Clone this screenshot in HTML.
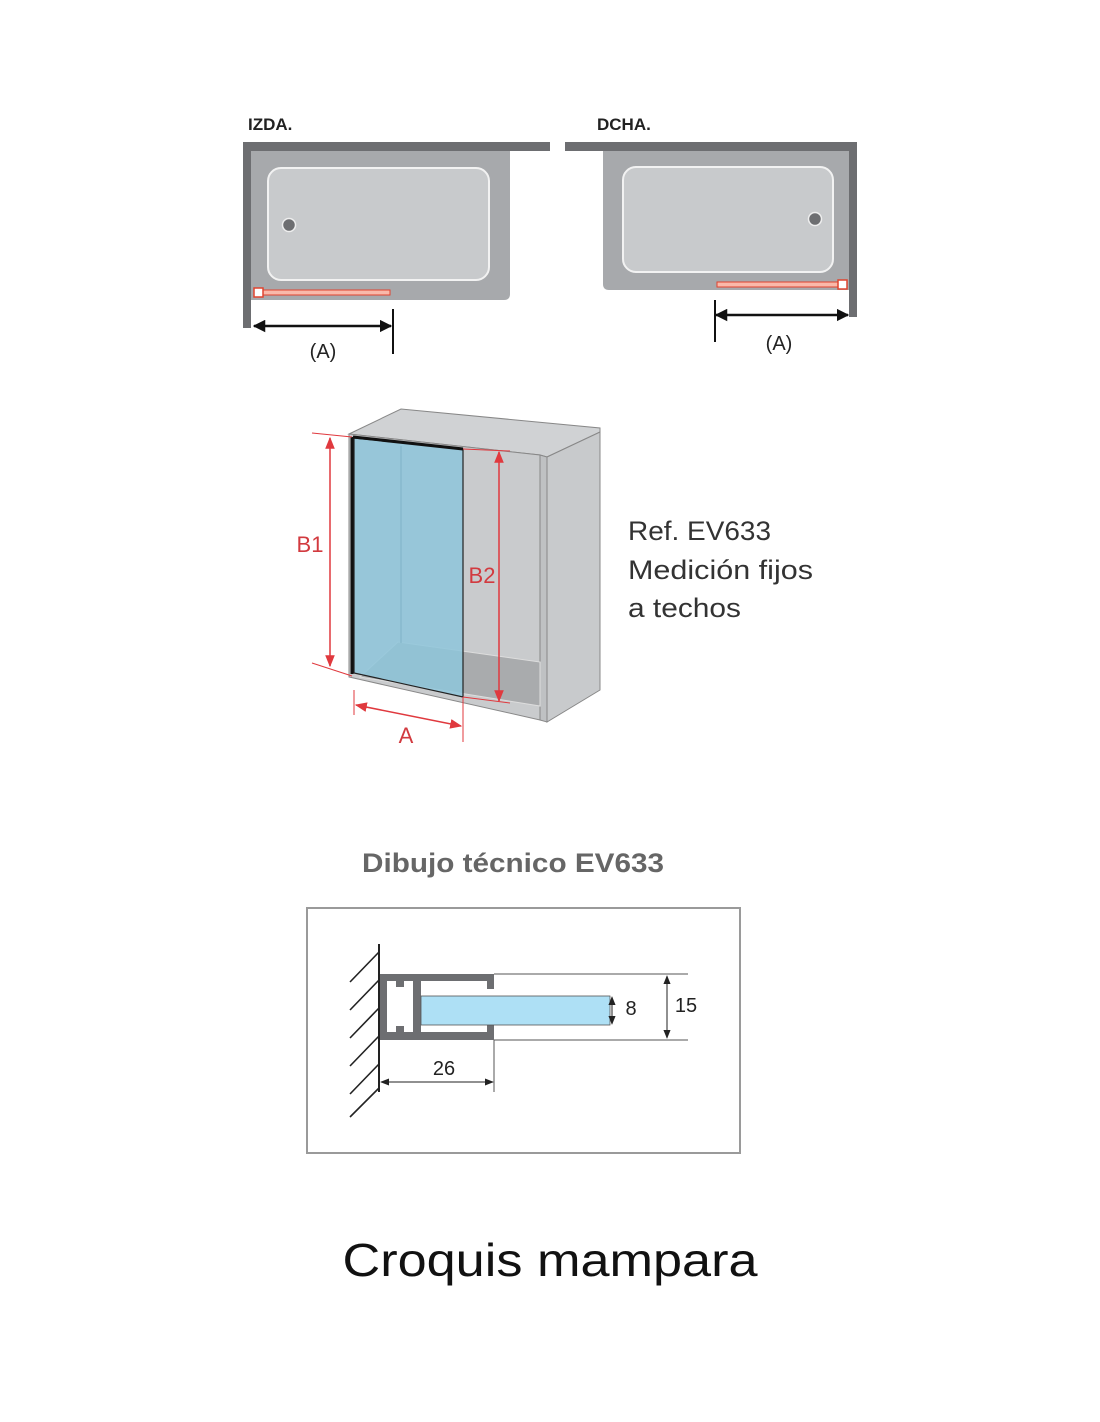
<!DOCTYPE html>
<html><head><meta charset="utf-8"><style>
html,body{margin:0;padding:0;background:#fff;}
svg{display:block;}
</style></head><body>
<svg width="1100" height="1422" viewBox="0 0 1100 1422" xmlns="http://www.w3.org/2000/svg">
<defs>
<marker id="ab" viewBox="0 0 10 10" refX="9" refY="5" markerWidth="5" markerHeight="5" orient="auto-start-reverse"><path d="M0,0 L10,5 L0,10 z" fill="#111"/></marker>
<marker id="ar" viewBox="0 0 10 10" refX="9" refY="5" markerWidth="8" markerHeight="8" orient="auto-start-reverse"><path d="M0,1 L10,5 L0,9 z" fill="#e0393e"/></marker>
<marker id="ak" viewBox="0 0 10 10" refX="9" refY="5" markerWidth="9" markerHeight="9" orient="auto-start-reverse"><path d="M0,1 L10,5 L0,9 z" fill="#222"/></marker>
</defs>

<!-- TOP LEFT -->
<text x="248" y="130" font-family="Liberation Sans, sans-serif" font-weight="bold" font-size="17" fill="#222">IZDA.</text>
<rect x="243" y="142" width="307" height="9" fill="#6d6e71"/>
<rect x="243" y="142" width="8" height="186" fill="#6d6e71"/>
<path d="M251,151 H510 V294 Q510,300 504,300 H251 Z" fill="#a7a9ac"/>
<rect x="268" y="168" width="221" height="112" rx="13" fill="#c8cacc" stroke="#f2f2f2" stroke-width="2"/>
<circle cx="289" cy="225" r="6.5" fill="#6d6e71" stroke="#eee" stroke-width="1.5"/>
<rect x="260" y="290" width="130" height="5" fill="#f9b9aa" stroke="#e0442f" stroke-width="1"/>
<rect x="254" y="288" width="9" height="9" fill="#fff" stroke="#e0442f" stroke-width="1.5"/>
<line x1="254" y1="326" x2="391" y2="326" stroke="#111" stroke-width="2.5" marker-start="url(#ab)" marker-end="url(#ab)"/>
<line x1="393" y1="309" x2="393" y2="354" stroke="#111" stroke-width="2"/>
<text x="323" y="358" text-anchor="middle" font-family="Liberation Sans, sans-serif" font-size="20" fill="#222">(A)</text>

<!-- TOP RIGHT -->
<text x="597" y="130" font-family="Liberation Sans, sans-serif" font-weight="bold" font-size="17" fill="#222">DCHA.</text>
<rect x="565" y="142" width="292" height="9" fill="#6d6e71"/>
<rect x="849" y="142" width="8" height="175" fill="#6d6e71"/>
<path d="M603,151 H849 V290 H609 Q603,290 603,284 Z" fill="#a7a9ac"/>
<rect x="623" y="167" width="210" height="105" rx="13" fill="#c8cacc" stroke="#f2f2f2" stroke-width="2"/>
<circle cx="815" cy="219" r="6.5" fill="#6d6e71" stroke="#eee" stroke-width="1.5"/>
<rect x="717" y="282" width="122" height="5" fill="#f9b9aa" stroke="#e0442f" stroke-width="1"/>
<rect x="838" y="280" width="9" height="9" fill="#fff" stroke="#e0442f" stroke-width="1.5"/>
<line x1="716" y1="315" x2="848" y2="315" stroke="#111" stroke-width="2.5" marker-start="url(#ab)" marker-end="url(#ab)"/>
<line x1="715" y1="300" x2="715" y2="342" stroke="#111" stroke-width="2"/>
<text x="779" y="350" text-anchor="middle" font-family="Liberation Sans, sans-serif" font-size="20" fill="#222">(A)</text>

<!-- 3D BOX -->
<polygon points="349,434 401,409 600,428 600,432 547,457 540,455" fill="#d0d2d4" stroke="#888" stroke-width="1"/>
<polygon points="349,434 540,455 540,720 349,677" fill="#c9cbcd" stroke="#888" stroke-width="1"/>
<polygon points="540,455 547,457 547,722 540,720" fill="#bfc1c3" stroke="#888" stroke-width="1"/>
<polygon points="547,457 600,432 600,690 547,722" fill="#c8cacc" stroke="#888" stroke-width="1"/>
<polygon points="360,677 398,642 540,662 540,706" fill="#a9abad" stroke="#ddd" stroke-width="1"/>
<polygon points="354,438 463,449 463,697 354,673" fill="#8ec5db" fill-opacity="0.85" stroke="#222" stroke-width="1.2"/>
<line x1="401" y1="446" x2="401" y2="643" stroke="#7fb2c6" stroke-width="1"/>
<line x1="353" y1="437" x2="463" y2="449" stroke="#111" stroke-width="3"/>
<line x1="352" y1="437" x2="352" y2="674" stroke="#111" stroke-width="3"/>
<!-- dims -->
<line x1="312" y1="433" x2="352" y2="437" stroke="#e0393e" stroke-width="1"/>
<line x1="312" y1="663" x2="352" y2="676" stroke="#e0393e" stroke-width="1"/>
<line x1="330" y1="438" x2="330" y2="666" stroke="#e0393e" stroke-width="1.5" marker-start="url(#ar)" marker-end="url(#ar)"/>
<text x="310" y="552" text-anchor="middle" font-family="Liberation Sans, sans-serif" font-size="22" fill="#d23a3f">B1</text>
<line x1="463" y1="449" x2="510" y2="451" stroke="#e0393e" stroke-width="1"/>
<line x1="463" y1="697" x2="510" y2="703" stroke="#e0393e" stroke-width="1"/>
<line x1="499" y1="452" x2="499" y2="701" stroke="#e0393e" stroke-width="1.5" marker-start="url(#ar)" marker-end="url(#ar)"/>
<text x="482" y="583" text-anchor="middle" font-family="Liberation Sans, sans-serif" font-size="22" fill="#d23a3f">B2</text>
<line x1="354" y1="690" x2="354" y2="715" stroke="#e0393e" stroke-width="1"/>
<line x1="463" y1="697" x2="463" y2="742" stroke="#e0393e" stroke-width="1"/>
<line x1="356" y1="705" x2="461" y2="726" stroke="#e0393e" stroke-width="1.5" marker-start="url(#ar)" marker-end="url(#ar)"/>
<text x="406" y="743" text-anchor="middle" font-family="Liberation Sans, sans-serif" font-size="22" fill="#d23a3f">A</text>

<g font-family="Liberation Sans, sans-serif" font-size="27" fill="#333">
<text x="628" y="540" textLength="143" lengthAdjust="spacingAndGlyphs">Ref. EV633</text>
<text x="628" y="579" textLength="185" lengthAdjust="spacingAndGlyphs">Medición fijos</text>
<text x="628" y="617" textLength="113" lengthAdjust="spacingAndGlyphs">a techos</text>
</g>

<!-- technical -->
<text x="362" y="872" font-family="Liberation Sans, sans-serif" font-weight="bold" font-size="27" fill="#666" textLength="302" lengthAdjust="spacingAndGlyphs">Dibujo técnico EV633</text>
<rect x="307" y="908" width="433" height="245" fill="#fff" stroke="#9a9a9a" stroke-width="2"/>
<line x1="379" y1="944" x2="379" y2="1092" stroke="#222" stroke-width="2"/>
<g stroke="#222" stroke-width="1.6">
<line x1="350" y1="982" x2="379" y2="952"/>
<line x1="350" y1="1010" x2="379" y2="980"/>
<line x1="350" y1="1038" x2="379" y2="1008"/>
<line x1="350" y1="1066" x2="379" y2="1036"/>
<line x1="350" y1="1094" x2="379" y2="1064"/>
<line x1="350" y1="1117" x2="379" y2="1088"/>
</g>
<rect x="380" y="974" width="114" height="66" fill="#6d6e71"/>
<path d="M387,981 H396 V987 H404 V981 H413 V1032 H404 V1026 H396 V1032 H387 Z" fill="#fff"/>
<path d="M421,981 H487 V989 H494 V1025 H487 V1032 H421 Z" fill="#fff"/>
<rect x="421" y="996" width="189" height="29" fill="#aee0f5" stroke="#555" stroke-width="0.8"/>
<line x1="494" y1="974" x2="688" y2="974" stroke="#555" stroke-width="1"/>
<line x1="494" y1="1040" x2="688" y2="1040" stroke="#555" stroke-width="1"/>
<line x1="667" y1="976" x2="667" y2="1038" stroke="#222" stroke-width="1" marker-start="url(#ak)" marker-end="url(#ak)"/>
<line x1="612" y1="997" x2="612" y2="1024" stroke="#222" stroke-width="1" marker-start="url(#ak)" marker-end="url(#ak)"/>
<line x1="494" y1="1040" x2="494" y2="1092" stroke="#555" stroke-width="1"/>
<line x1="381" y1="1082" x2="493" y2="1082" stroke="#222" stroke-width="1" marker-start="url(#ak)" marker-end="url(#ak)"/>
<g font-family="Liberation Sans, sans-serif" font-size="20" fill="#222">
<text x="631" y="1015" text-anchor="middle">8</text>
<text x="686" y="1012" text-anchor="middle">15</text>
<text x="444" y="1075" text-anchor="middle">26</text>
</g>

<text x="550" y="1276" text-anchor="middle" font-family="Liberation Sans, sans-serif" font-size="46" fill="#111" textLength="415" lengthAdjust="spacingAndGlyphs">Croquis mampara</text>
</svg>
</body></html>
